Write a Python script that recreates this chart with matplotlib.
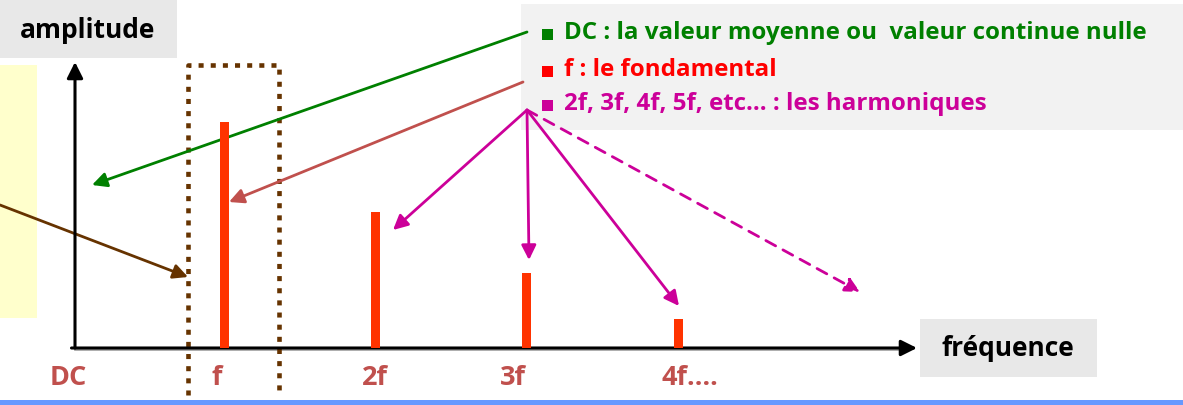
import matplotlib
matplotlib.use("Agg")
import matplotlib.pyplot as plt
from matplotlib.patches import Rectangle

# spectrum data: harmonic rank and relative amplitude
labels = ["DC", "f", "2f", "3f", "4f…."]
rank = [0, 1, 2, 3, 4]
amplitude = [0.0, 1.0, 0.60, 0.33, 0.13]

legend_lines = ["DC : la valeur moyenne ou  valeur continue nulle",
                "f : le fondamental",
                "2f, 3f, 4f, 5f, etc… : les harmoniques"]
legend_colors = ["#008000", "#FF0000", "#CC0099"]

W, H = 1183, 405
X0, Y0 = 73, 348        # origin of the spectrum, in pixels
DX, DY = 151.3, 226.0   # pixels per harmonic / per unit amplitude

plt.rcParams['font.family'] = ['Open Sans', 'DejaVu Sans']

fig = plt.figure(figsize=(W / 100, H / 100), dpi=100)

# axes for the spectrum itself (data coords)
ax = fig.add_axes([0, 0, 1, 1])
ax.set_xlim(-X0 / DX, (W - X0) / DX)
ax.set_ylim(-(H - Y0) / DY, Y0 / DY)
ax.axis('off')

# overlay in pixel coordinates for the boxes / arrows
deco = fig.add_axes([0, 0, 1, 1], zorder=-1)
deco.set_xlim(0, W)
deco.set_ylim(H, 0)
deco.axis('off')

# background boxes
deco.add_patch(Rectangle((0, 0), 177, 58, color="#E8E8E8", lw=0))
deco.text(88, 30, "amplitude", fontsize=19, fontweight='bold', ha='center', va='center')
deco.add_patch(Rectangle((920, 319), 177, 58, color="#E8E8E8", lw=0))
deco.text(1008, 348, "fréquence", fontsize=19, fontweight='bold', ha='center', va='center')
deco.add_patch(Rectangle((0, 65), 37, 253, color="#FFFFCC", lw=0))
deco.add_patch(Rectangle((521, 4), W - 521, 126, color="#F2F2F2", lw=0))
deco.add_patch(Rectangle((0, 400), W, 5, color="#6699FF", lw=0))

for txt, c, y in zip(legend_lines, legend_colors, [33, 70, 104]):
    deco.add_patch(Rectangle((542, y - 4), 11, 11, color=c, lw=0))
    deco.text(564, y, txt, color=c, fontsize=17.4, fontweight='bold', va='center', ha='left')

# dotted box around the fundamental
deco.plot([188, 188, 279, 279], [395, 65, 65, 395], color="#663300", lw=3.3,
          linestyle=(0, (1.1, 1.55)), solid_capstyle='butt', dash_capstyle='butt')

def arrow(p0, p1, color, lw=2.0, ls='-', ms=22):
    deco.annotate("", xy=p1, xytext=p0,
                  arrowprops=dict(arrowstyle='-|>', color=color, lw=lw, ls=ls,
                                  mutation_scale=ms, shrinkA=0, shrinkB=0))

# axes arrows (with a light shadow under the frequency axis)
deco.plot([75, 905], [350, 350], color="#A0A0A0", lw=1.2, zorder=0)
ax.annotate("", xy=((917 - X0) / DX, 0), xytext=(-0.01, 0),
            arrowprops=dict(arrowstyle='-|>', color='black', lw=2.2, mutation_scale=24,
                            shrinkA=0, shrinkB=0))
ax.annotate("", xy=(2 / DX, (Y0 - 62) / DY), xytext=(2 / DX, 0),
            arrowprops=dict(arrowstyle='-|>', color='black', lw=2.2, mutation_scale=24,
                            shrinkA=0, shrinkB=0))

# spectral lines
ax.bar(rank[1:], amplitude[1:], width=9 / DX, color="#FF3300", zorder=3)

# frequency labels
label_dx = [-5, -8, -1, -14, -17]
for r, lab, d in zip(rank, labels, label_dx):
    ha = 'left' if r == 4 else 'center'
    ax.text(r + d / DX, -30 / DY, lab, color="#C0504D", fontsize=19.5, fontweight='bold',
            ha=ha, va='center')

# annotation arrows
arrow((527, 32), (92, 185), "#008000")
arrow((523, 82), (229, 202), "#C0504D")
arrow((0, 205), (188, 277), "#663300")
src = (527, 110)
for tip in [(393, 230), (529, 260), (679, 306)]:
    arrow(src, tip, "#CC0099")
arrow(src, (860, 292), "#CC0099", ls=(0, (4, 3)))

fig.savefig("out.png", dpi=100)
